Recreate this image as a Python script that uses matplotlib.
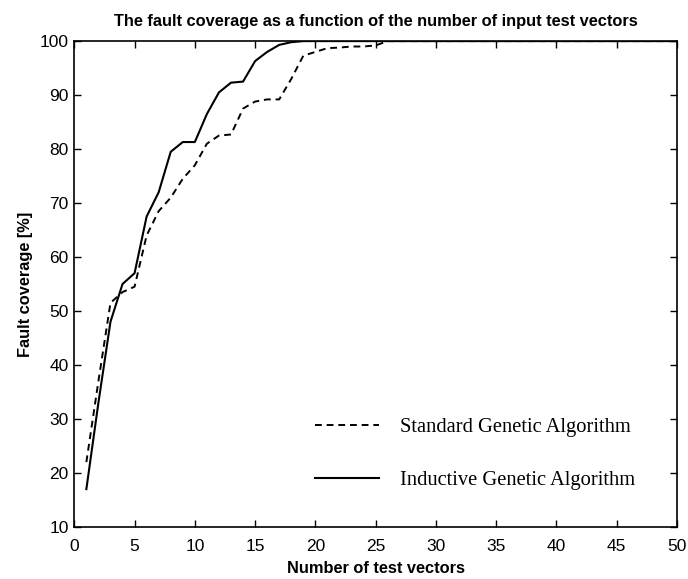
import matplotlib
matplotlib.use("Agg")
import matplotlib.pyplot as plt

x_std = [1, 2, 3, 4, 5, 6, 7, 8, 9, 10, 11, 12, 13, 14, 15, 16, 17, 18, 19, 20,
         21, 22, 23, 24, 25, 26, 50]
y_std = [22, 37, 51.5, 53.5, 54.5, 64, 68.5, 71, 74.5, 77, 81, 82.5, 82.7, 87.5,
         88.8, 89.2, 89.2, 93, 97.3, 98, 98.7, 98.8, 99, 99, 99.2, 100, 100]

x_ind = [1, 2, 3, 4, 5, 6, 7, 8, 9, 10, 11, 12, 13, 14, 15, 16, 17, 18, 19, 50]
y_ind = [17, 33, 48, 55, 57, 67.5, 72, 79.5, 81.3, 81.3, 86.5, 90.5, 92.3, 92.5,
         96.3, 98, 99.3, 99.8, 100, 100]

title = "The fault coverage as a function of the number of input test vectors"
xlabel = "Number of test vectors"
ylabel = "Fault coverage [%]"
labels = ["Standard Genetic Algorithm", "Inductive Genetic Algorithm"]

SANS = "Liberation Sans"

fig = plt.figure(figsize=(6.88, 5.79), dpi=100)
ax = fig.add_axes([0.108, 0.090, 0.876, 0.839])

ax.plot(x_std, y_std, color="black", lw=1.4, linestyle=(0, (3.5, 2.5)), label=labels[0])
ax.plot(x_ind, y_ind, color="black", lw=1.5, linestyle="-", label=labels[1])

ax.set_xlim(0, 50)
ax.set_ylim(10, 100)
ax.set_xticks(range(0, 51, 5))
ax.set_yticks(range(10, 101, 10))
ax.tick_params(direction="in", top=True, right=True, length=5, width=1,
               labelsize=12.5)
ax.tick_params(axis="x", pad=8.5)
ax.tick_params(axis="y", pad=4)
for lab in ax.get_xticklabels() + ax.get_yticklabels():
    lab.set_family(SANS)
for s in ax.spines.values():
    s.set_linewidth(1.2)

ax.set_title(title, fontsize=11.8, family=SANS, fontweight="bold", pad=11)
ax.set_xlabel(xlabel, fontsize=11.8, family=SANS, fontweight="bold", labelpad=5)
ax.set_ylabel(ylabel, fontsize=11.8, family=SANS, fontweight="bold", labelpad=5)

leg = ax.legend(loc="center left", bbox_to_anchor=(0.40, 0.15), frameon=False,
                prop={"family": "Liberation Serif", "size": 14.8},
                handlelength=3.1, handletextpad=1.0, labelspacing=1.65,
                borderaxespad=0.0, borderpad=0.0)

fig.savefig("out.png", dpi=100)
